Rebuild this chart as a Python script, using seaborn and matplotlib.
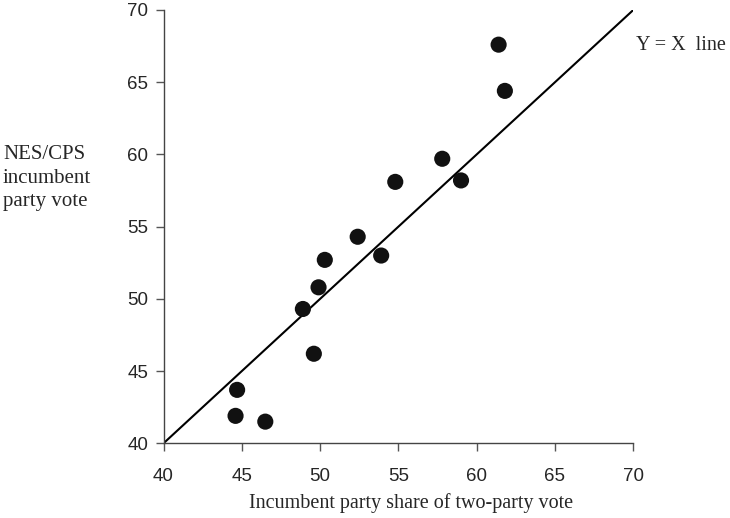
import numpy as np
import pandas as pd
import matplotlib
matplotlib.use("Agg")
import matplotlib.pyplot as plt
import seaborn as sns

# incumbent party share of two-party vote (actual) vs NES/CPS reported vote
actual_share = [61.4, 61.8, 57.8, 59.0, 54.8, 52.4, 50.3, 53.9, 49.9,
                48.9, 49.6, 44.7, 44.6, 46.5]
survey_share = [67.6, 64.4, 59.7, 58.2, 58.1, 54.3, 52.7, 53.0, 50.8,
                49.3, 46.2, 43.7, 41.9, 41.5]

x_ticks = [40, 45, 50, 55, 60, 65, 70]
y_ticks = [40, 45, 50, 55, 60, 65, 70]

df = pd.DataFrame({"actual": actual_share, "survey": survey_share})

sns.set_style("ticks")
plt.rcParams["font.family"] = ["Liberation Sans", "DejaVu Sans"]

fig = plt.figure(figsize=(7.3, 5.18), dpi=100)
ax = fig.add_axes([0.224, 0.1442, 0.6435, 0.8365])

# the y = x reference line
ax.axline((40, 40), slope=1, color="black", lw=1.5, zorder=1)

sns.scatterplot(data=df, x="actual", y="survey", ax=ax, s=135,
                color="#111111", edgecolor="none", zorder=2, legend=False)

ax.set_xlim(40, 70)
ax.set_ylim(40, 70)
ax.set_xticks(x_ticks)
ax.set_yticks(y_ticks)
ax.tick_params(axis="x", length=6, width=1, color="#555555", pad=12, labelsize=13.5)
ax.tick_params(axis="y", length=6, width=1, color="#555555", pad=5, labelsize=13.5)
for side in ["left", "bottom"]:
    ax.spines[side].set_color("#444444")
    ax.spines[side].set_linewidth(1)
sns.despine(ax=ax)

ax.set_xlabel("")
ax.set_ylabel("")

serif = ["Liberation Serif", "DejaVu Serif"]
fig.text(0.563, 0.029, "Incumbent party share of two-party vote",
         ha="center", va="center", fontsize=14.5, family=serif)
fig.text(0.004, 0.656, "NES/CPS\nincumbent\nparty vote", ha="left", va="center",
         fontsize=15, linespacing=1.3, family=serif)
ax.text(1.005, 0.919, "Y = X  line", transform=ax.transAxes, ha="left", va="center",
        fontsize=14.5, family=serif, clip_on=False)

fig.savefig("out.png", dpi=100)
